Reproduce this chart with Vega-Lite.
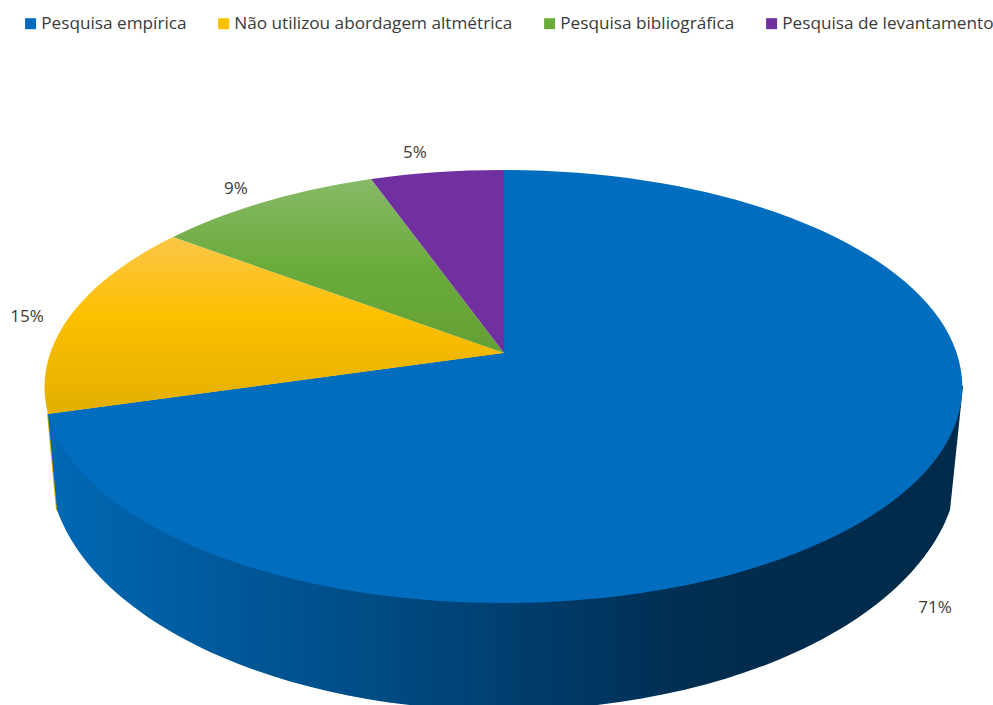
{
"$schema":"https://vega.github.io/schema/vega-lite/v6.json",
"width":993,"height":705,"padding":0,"autosize":{"type":"none"},"background":"white",
"data":{"values":[
{"categoria":"Pesquisa empírica","valor":0.71},
{"categoria":"Não utilizou abordagem altmétrica","valor":0.15},
{"categoria":"Pesquisa bibliográfica","valor":0.09},
{"categoria":"Pesquisa de levantamento","valor":0.05}]},
"encoding":{
"x":{"datum":0,"type":"quantitative","scale":{"domain":[-504,489]},"axis":null},
"y":{"datum":0,"type":"quantitative","scale":{"domain":[-353,352],"reverse":true},"axis":null}
},
"layer":[
{"mark":{"type":"point","filled":true,"opacity":0,"size":1},
 "encoding":{"color":{"field":"categoria","type":"nominal",
   "scale":{"domain":["Pesquisa empírica","Não utilizou abordagem altmétrica","Pesquisa bibliográfica","Pesquisa de levantamento"],
            "range":["#016DBE","#FDC000","#6BAB3C","#7030A0"]},
   "legend":{"orient":"none","legendX":22,"legendY":15,"direction":"horizontal","columns":4,"title":null,
     "symbolType":"square","symbolSize":121,"symbolStrokeWidth":0,"symbolOpacity":1,"labelFont":"Open Sans","labelFontSize":17.2,"labelColor":"#3a3a3a","columnPadding":28,"labelOffset":2,"labelLimit":400}}}},
{"transform":[{"filter":"datum.categoria=='Não utilizou abordagem altmétrica'"}],
 "mark":{"type":"point","filled":true,"opacity":1,"size":4,"strokeWidth":0,"fill":"#dca800","shape":"M-457,60 L-448,157 L-445,157 L-454,61 Z"}},
{"transform":[{"filter":"datum.categoria=='Pesquisa empírica'"}],
 "mark":{"type":"point","filled":true,"opacity":1,"size":4,"strokeWidth":0,
  "shape":"M-456,61 L-447,157 A455,248 0 0 0 446,157 L457,52 L459,33 L0,0 Z",
  "fill":{"gradient":"linear","x1":0,"y1":0,"x2":1,"y2":0,"stops":[
   {"offset":0,"color":"#0068b4"},{"offset":0.28,"color":"#00528f"},{"offset":0.5,"color":"#003f70"},{"offset":0.72,"color":"#002c4e"},{"offset":1,"color":"#002a4a"}]}}},
{"transform":[{"filter":"datum.categoria=='Pesquisa empírica'"}],
 "mark":{"type":"point","filled":true,"opacity":1,"size":4,"strokeWidth":0,"fill":"#016DBE","shape":"M0,0 L0,-183 A459,216.5 0 1 1 -456,61 Z"}},
{"transform":[{"filter":"datum.categoria=='Não utilizou abordagem altmétrica'"}],
 "mark":{"type":"point","filled":true,"opacity":1,"size":4,"strokeWidth":0,"shape":"M0,0 L-456,61 A459,216.5 0 0 1 -331,-116 Z",
  "fill":{"gradient":"linear","x1":0,"y1":0,"x2":0,"y2":1,"stops":[{"offset":0,"color":"#fcc648"},{"offset":0.45,"color":"#fdc000"},{"offset":1,"color":"#e2ae00"}]}}},
{"transform":[{"filter":"datum.categoria=='Pesquisa bibliográfica'"}],
 "mark":{"type":"point","filled":true,"opacity":1,"size":4,"strokeWidth":0,"shape":"M0,0 L-331,-116 A459,216.5 0 0 1 -133,-174 Z",
  "fill":{"gradient":"linear","x1":0,"y1":0,"x2":0,"y2":1,"stops":[{"offset":0,"color":"#87ba68"},{"offset":0.5,"color":"#6bab3c"},{"offset":1,"color":"#63a035"}]}}},
{"transform":[{"filter":"datum.categoria=='Pesquisa de levantamento'"}],
 "mark":{"type":"point","filled":true,"opacity":1,"size":4,"strokeWidth":0,"fill":"#7030A0","shape":"M0,0 L-133,-174 A459,216.5 0 0 1 0,-183 Z"}},
{"transform":[{"filter":"datum.categoria=='Pesquisa empírica'"}],
 "mark":{"type":"text","font":"Open Sans","fontSize":17,"color":"#3a3a3a","align":"center","baseline":"middle"},
 "encoding":{"text":{"field":"valor","type":"quantitative","format":".0%"},"x":{"datum":431},"y":{"datum":255}}},
{"transform":[{"filter":"datum.categoria=='Não utilizou abordagem altmétrica'"}],
 "mark":{"type":"text","font":"Open Sans","fontSize":17,"color":"#3a3a3a","align":"center","baseline":"middle"},
 "encoding":{"text":{"field":"valor","type":"quantitative","format":".0%"},"x":{"datum":-477},"y":{"datum":-36}}},
{"transform":[{"filter":"datum.categoria=='Pesquisa bibliográfica'"}],
 "mark":{"type":"text","font":"Open Sans","fontSize":17,"color":"#3a3a3a","align":"center","baseline":"middle"},
 "encoding":{"text":{"field":"valor","type":"quantitative","format":".0%"},"x":{"datum":-268},"y":{"datum":-164}}},
{"transform":[{"filter":"datum.categoria=='Pesquisa de levantamento'"}],
 "mark":{"type":"text","font":"Open Sans","fontSize":17,"color":"#3a3a3a","align":"center","baseline":"middle"},
 "encoding":{"text":{"field":"valor","type":"quantitative","format":".0%"},"x":{"datum":-89},"y":{"datum":-200}}}
],
"config":{"view":{"stroke":null}}
}
